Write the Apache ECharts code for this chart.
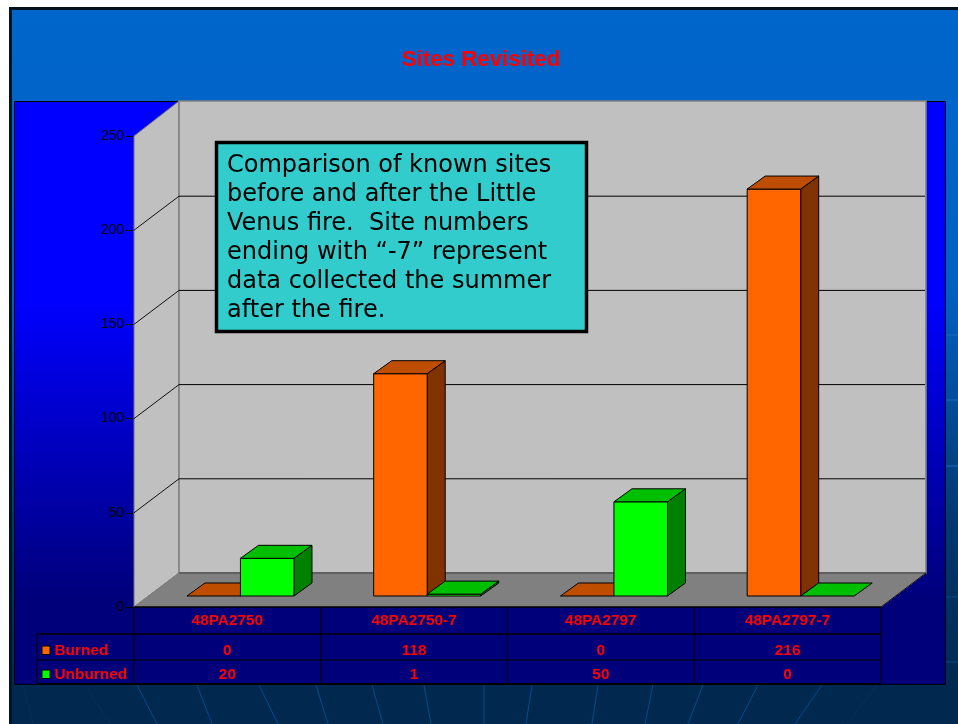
<!DOCTYPE html>
<html><head><meta charset="utf-8">
<style>html,body{margin:0;padding:0;background:#fff}#c{width:958px;height:724px}</style>
<script src="https://cdn.jsdelivr.net/npm/echarts@6/dist/echarts.min.js"></script>
</head><body><div id="c"></div>
<script>
const categories = ['48PA2750','48PA2750-7','48PA2797','48PA2797-7'];
const burned = [0,118,0,216];
const unburned = [20,1,50,0];
const yTicks = [0,50,100,150,200,250];
const titleText = 'Sites Revisited';
const calloutText = 'Comparison of known sites\nbefore and after the Little\nVenus fire.  Site numbers\nending with “-7” represent\ndata collected the summer\nafter the fire.';
const rays = [[23,33],[85,110],[137,157],[197,212],[259,278],[316,328],[372,383],[424,431],[484,484],[532,526],[598,592],[653,645],[703,688],[758,738],[822,795],[877,847]];
const sideGlints = [335,400,466,597,662];

const DX=45, DY=34, BX=18, BY=13, LIFT=11;
const chart = echarts.init(document.getElementById('c'), null, {renderer:'canvas'});

const poly=(pts,fill,stroke,w,z)=>({type:'polygon',shape:{points:pts},style:{fill,stroke:stroke||fill,lineWidth:w==null?1:w},z2:z||0});
const line=(a,b,stroke,w)=>({type:'line',shape:{x1:a[0],y1:a[1],x2:b[0],y2:b[1]},style:{stroke,lineWidth:w||1}});

function renderWalls(params,api){
  const c=params.coordSys, L=c.x, R=c.x+c.width, T=c.y, B=c.y+c.height;
  const ch=[
    poly([[L,T],[L+DX,T-DY-1],[L+DX,B-DY],[L,B]],'#c0c0c0','#707070',1),
    poly([[L+DX,T-DY-1],[R+DX,T-DY-1],[R+DX,B-DY],[L+DX,B-DY]],'#c0c0c0','#808080',1.6),
    poly([[L,B],[L+DX,B-DY],[R+DX,B-DY],[R,B]],'#808080','#808080',1),
    line([L+DX,B-DY],[R+DX,B-DY],'#555',1.6),
    line([R,B],[R+DX,B-DY],'#111',1)
  ];
  yTicks.forEach(v=>{
    if(v===0||v===250) return;
    const y=api.coord([0,v])[1];
    ch.push(line([L,y],[L+DX,y-DY],'#111',1));
    ch.push(line([L+DX,y-DY],[R+DX-1,y-DY],'#000',1));
  });
  return {type:'group',children:ch};
}
function makeBar(off,front,top,side){
  return function(params,api){
    const p=api.coord([api.value(0),api.value(1)]);
    const p0=api.coord([api.value(0),0]);
    const band=api.size([1,0])[0], w=band*0.2866;
    const x0=p[0]+band*0.07+off*w, x1=x0+w;
    const yb=p0[1]-LIFT, yt=p[1]-LIFT;
    const ch=[];
    if(yb-yt>0.5){
      ch.push(poly([[x1,yb],[x1+BX,yb-BY],[x1+BX,yt-BY],[x1,yt]],side,'#000',1));
      ch.push(poly([[x0,yb],[x1,yb],[x1,yt],[x0,yt]],front,'#000',1));
    }
    ch.push(poly([[x0,yt],[x1,yt],[x1+BX,yt-BY],[x0+BX,yt-BY]],top,'#000',1));
    return {type:'group',children:ch};
  };
}
const rowY=[650,674];
const rows=[['Burned','#ff6600',burned],['Unburned','#00ff00',unburned]];
const tableFont='bold 15.4px "Liberation Sans"';
function renderTable(params,api){
  const c=params.coordSys, L=c.x, R=c.x+c.width, B=c.y+c.height;
  const band=c.width/categories.length;
  const LEG=37,Y1=634,Y2=660,Y3=684;
  const ch=[
    {type:'rect',shape:{x:L,y:B,width:c.width,height:Y3-B},style:{fill:'#00007a'}},
    {type:'rect',shape:{x:LEG,y:Y1,width:L-LEG,height:Y3-Y1},style:{fill:'#00007a'}},
    line([L,B],[R,B],'#000',1.5),line([LEG,Y1],[R,Y1],'#000',1.5),line([LEG,Y2],[R,Y2],'#000',1),
    line([LEG,Y3],[R,Y3],'#000',2),line([LEG,Y1],[LEG,Y3],'#000',1)
  ];
  categories.forEach((_,i)=>ch.push(line([L+i*band,B],[L+i*band,Y3],'#000',1)));
  ch.push(line([R,B],[R,Y3],'#000',1));
  rows.forEach((r,k)=>{
    ch.push({type:'rect',shape:{x:42,y:rowY[k]-4,width:8,height:8.5},style:{fill:r[1],stroke:'#000',lineWidth:1}});
    ch.push({type:'text',style:{x:54.5,y:rowY[k]+1,text:r[0],fill:'#f00',font:tableFont,textAlign:'left',textVerticalAlign:'middle'}});
    r[2].forEach((v,i)=>{
      ch.push({type:'text',style:{x:L+(i+.5)*band,y:rowY[k]+1,text:String(v),fill:'#f00',font:tableFont,textAlign:'center',textVerticalAlign:'middle'}});
    });
  });
  return {type:'group',children:ch};
}

const bg=[
  {type:'rect',z:-30,shape:{x:9,y:7,width:949,height:717},style:{fill:new echarts.graphic.LinearGradient(0,0,0,1,[{offset:0,color:'#0066cc'},{offset:.4,color:'#0060c0'},{offset:.72,color:'#00386f'},{offset:.95,color:'#01294f'},{offset:1,color:'#01294f'}])}},
  {type:'rect',z:-29,shape:{x:9,y:7,width:949,height:3},style:{fill:'#00101f'}},
  {type:'rect',z:-29,shape:{x:9,y:7,width:3,height:717},style:{fill:'#001428'}},
  ...rays.map((r,i)=>({type:'line',z:-28,shape:{x1:r[0],y1:685,x2:r[1],y2:724},style:{stroke:(i<2||i===15)?'#02305c':'#064a8c',lineWidth:1}})),
  ...sideGlints.map((y,i)=>({type:'line',z:-28,shape:{x1:946,y1:y,x2:958,y2:y},style:{stroke:i<3?'#1a6cc0':'#0a4a84',lineWidth:1}})),
  {type:'rect',z:-20,shape:{x:14.5,y:101.5,width:931,height:583},style:{fill:new echarts.graphic.LinearGradient(0,0,0,1,[{offset:0,color:'#0000ff'},{offset:.34,color:'#0000ff'},{offset:.855,color:'#00007a'},{offset:1,color:'#00007a'}]),stroke:'#000',lineWidth:1}},
  {type:'rect',z:100,shape:{x:216.5,y:142.5,width:370,height:189},style:{fill:'#33cccc',stroke:'#000',lineWidth:3.5}},
  {type:'text',z:101,style:{x:227,y:151,text:calloutText,fill:'#000',font:'24px "DejaVu Sans"',lineHeight:29,textAlign:'left',textVerticalAlign:'top'}}
];

chart.setOption({
  animation:false,
  backgroundColor:'#fff',
  title:{text:titleText,left:481,top:49,padding:0,textAlign:'center',textStyle:{color:'#f00',fontFamily:'Liberation Sans',fontWeight:'bold',fontSize:22.3}},
  grid:{left:134,top:136,width:747,height:471,containLabel:false},
  xAxis:{type:'category',data:categories,z:5,
    axisLine:{show:false},axisTick:{show:false},splitLine:{show:false},
    axisLabel:{color:'#f00',fontFamily:'Liberation Sans',fontWeight:'bold',fontSize:15.4,margin:6,hideOverlap:false,interval:0}},
  yAxis:{type:'value',min:0,max:250,interval:50,
    axisLine:{show:false},axisTick:{show:true,length:8,lineStyle:{color:'#000',width:1}},splitLine:{show:false},
    axisLabel:{color:'#000',fontFamily:'Liberation Sans',fontSize:14,margin:10,padding:[2,0,0,0]}},
  graphic:{elements:bg},
  series:[
    {type:'custom',name:'walls',data:[[0,0]],renderItem:renderWalls,z:1,silent:true},
    {type:'custom',name:'table',data:[[0,0]],renderItem:renderTable,z:1.5,silent:true},
    {type:'custom',name:'Burned',data:burned.map((v,i)=>[i,v]),renderItem:makeBar(-1,'#ff6600','#bf4d00','#803300'),encode:{x:0,y:1},z:3},
    {type:'custom',name:'Unburned',data:unburned.map((v,i)=>[i,v]),renderItem:makeBar(0,'#00ff00','#00bf00','#008000'),encode:{x:0,y:1},z:3}
  ]
});
</script></body></html>
